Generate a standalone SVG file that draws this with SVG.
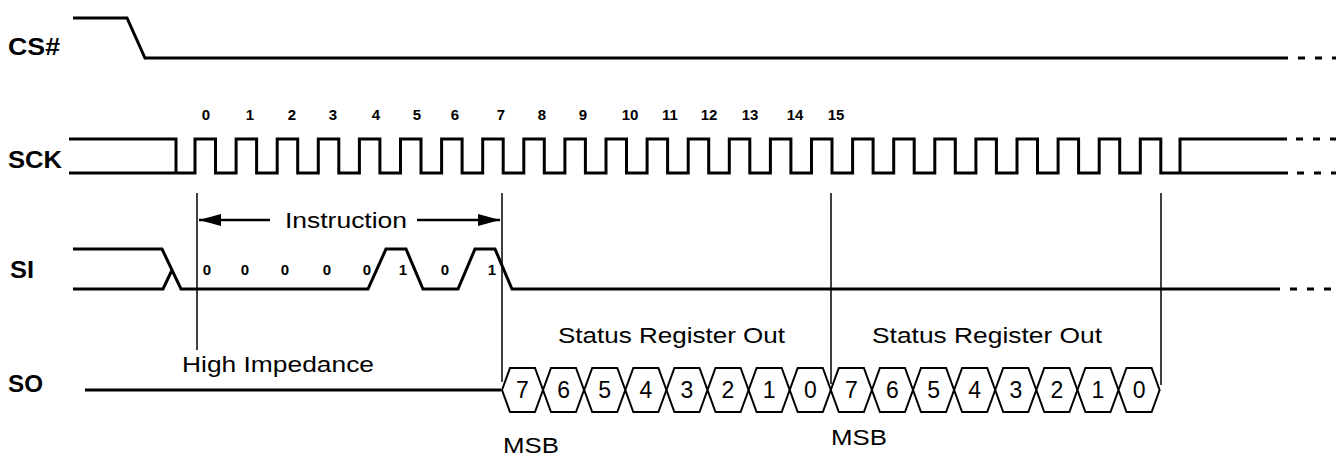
<svg xmlns="http://www.w3.org/2000/svg" width="1341" height="457" viewBox="0 0 1341 457">
<style>
.sig{fill:none;stroke:#000;stroke-width:3;stroke-linejoin:miter}
.thin{fill:none;stroke:#000;stroke-width:1.5}
.dash{fill:none;stroke:#000;stroke-width:3;stroke-dasharray:7 10}
.hex{fill:none;stroke:#000;stroke-width:2;stroke-linejoin:miter}
.lbl{font-family:"Liberation Sans",Arial,sans-serif;font-weight:bold;font-size:23px;fill:#000}
.num{font-family:"Liberation Sans",Arial,sans-serif;font-weight:bold;font-size:15px;fill:#000;text-anchor:middle}
.txt{font-family:"Liberation Sans",Arial,sans-serif;font-size:22px;fill:#000}
.dig{font-family:"Liberation Sans",Arial,sans-serif;font-size:23px;fill:#000;text-anchor:middle}
</style>
<defs>
<marker id="ah" markerUnits="userSpaceOnUse" viewBox="0 0 22 12" refX="22" refY="6" markerWidth="22" markerHeight="12" orient="auto">
<path d="M0,0 L22,6 L0,12 z" fill="#000"/>
</marker>
</defs>

<g id="labels">
<text class="lbl" x="8" y="55" textLength="52" lengthAdjust="spacingAndGlyphs">CS#</text>
<text class="lbl" x="8" y="168" textLength="54" lengthAdjust="spacingAndGlyphs">SCK</text>
<text class="lbl" x="10" y="278" textLength="24" lengthAdjust="spacingAndGlyphs">SI</text>
<text class="lbl" x="8" y="392" textLength="35" lengthAdjust="spacingAndGlyphs">SO</text>
</g>

<g id="cs">
<path class="sig" d="M73,18 H127 L145,58 H1288"/>
<path class="dash" d="M1298,58 H1336"/>
</g>

<g id="sck-numbers">
<text class="num" x="206" y="120">0</text>
<text class="num" x="250" y="120">1</text>
<text class="num" x="292" y="120">2</text>
<text class="num" x="333" y="120">3</text>
<text class="num" x="376" y="120">4</text>
<text class="num" x="417" y="120">5</text>
<text class="num" x="455" y="120">6</text>
<text class="num" x="501" y="120">7</text>
<text class="num" x="542" y="120">8</text>
<text class="num" x="583" y="120">9</text>
<text class="num" x="630" y="120">10</text>
<text class="num" x="670" y="120">11</text>
<text class="num" x="709" y="120">12</text>
<text class="num" x="750" y="120">13</text>
<text class="num" x="795" y="120">14</text>
<text class="num" x="836" y="120">15</text>
</g>

<g id="sck">
<path class="sig" d="M69,139 H176 V173 M69,173 H195 V139 H215.5 V173 H236.1 V139 H256.6 V173 H277.2 V139 H297.7 V173 H318.3 V139 H338.8 V173 H359.4 V139 H379.9 V173 H400.5 V139 H421 V173 H441.6 V139 H462.1 V173 H482.7 V139 H503.2 V173 H523.8 V139 H544.3 V173 H564.9 V139 H585.4 V173 H606 V139 H626.5 V173 H647.1 V139 H667.6 V173 H688.2 V139 H708.7 V173 H729.3 V139 H749.8 V173 H770.4 V139 H790.9 V173 H811.5 V139 H832 V173 H852.6 V139 H873.1 V173 H893.7 V139 H914.2 V173 H934.8 V139 H955.3 V173 H975.9 V139 H996.4 V173 H1017 V139 H1037.5 V173 H1058.1 V139 H1078.6 V173 H1099.2 V139 H1119.7 V173 H1140.3 V139 H1160.8 V173 H1288 M1180,173 V139 H1287"/>
<path class="dash" d="M1296,139 H1336 M1297,173 H1336"/>
</g>

<g id="si">
<path class="sig" d="M73,249 H162 L181,289 H368 L386,249 H406 L423,289 H458 L475,249 H495 L512,289 H1280 M73,289 H163 L172,270"/>
<path class="dash" d="M1290,289 H1336"/>
<text class="num" x="207" y="275">0</text>
<text class="num" x="245" y="275">0</text>
<text class="num" x="285" y="275">0</text>
<text class="num" x="327" y="275">0</text>
<text class="num" x="367" y="275">0</text>
<text class="num" x="403" y="275">1</text>
<text class="num" x="445" y="275">0</text>
<text class="num" x="492" y="275">1</text>
</g>

<g id="instruction">
<line class="thin" x1="270" y1="220" x2="199" y2="220" style="stroke-width:2.5" marker-end="url(#ah)"/>
<line class="thin" x1="417" y1="220" x2="500" y2="220" style="stroke-width:2.5" marker-end="url(#ah)"/>
<text class="txt" x="285" y="228" textLength="122" lengthAdjust="spacingAndGlyphs">Instruction</text>
</g>

<g id="connectors">
<line class="thin" x1="197" y1="193" x2="197" y2="350"/>
<line class="thin" x1="502" y1="193" x2="502" y2="382"/>
<line class="thin" x1="831" y1="193" x2="831" y2="384"/>
<line class="thin" x1="1161" y1="193" x2="1161" y2="385"/>
</g>

<g id="so">
<path class="sig" d="M85,390 H501"/>
<text class="txt" x="182" y="372" textLength="192" lengthAdjust="spacingAndGlyphs">High Impedance</text>
<text class="txt" x="558" y="343" textLength="227" lengthAdjust="spacingAndGlyphs">Status Register Out</text>
<text class="txt" x="872" y="343" textLength="230" lengthAdjust="spacingAndGlyphs">Status Register Out</text>
<text class="txt" x="503" y="453" textLength="56" lengthAdjust="spacingAndGlyphs">MSB</text>
<text class="txt" x="831" y="445" textLength="56" lengthAdjust="spacingAndGlyphs">MSB</text>
</g>

<g id="so-bits">
<path class="hex" d="M502,390 L510,368 H535 L551,412 H576 L584,390 L576,368 H551 L535,412 H510 Z"/>
<path class="hex" d="M584.2,390 L592.2,368 H617.3 L633.3,412 H658.4 L666.4,390 L658.4,368 H633.3 L617.3,412 H592.2 Z"/>
<path class="hex" d="M666.4,390 L674.4,368 H699.5 L715.5,412 H740.6 L748.6,390 L740.6,368 H715.5 L699.5,412 H674.4 Z"/>
<path class="hex" d="M748.6,390 L756.6,368 H781.7 L797.7,412 H822.8 L830.8,390 L822.8,368 H797.7 L781.7,412 H756.6 Z"/>
<path class="hex" d="M830.8,390 L838.8,368 H863.9 L879.9,412 H905 L913,390 L905,368 H879.9 L863.9,412 H838.8 Z"/>
<path class="hex" d="M913,390 L921,368 H946.1 L962.1,412 H987.2 L995.2,390 L987.2,368 H962.1 L946.1,412 H921 Z"/>
<path class="hex" d="M995.2,390 L1003.2,368 H1028.3 L1044.3,412 H1069.4 L1077.4,390 L1069.4,368 H1044.3 L1028.3,412 H1003.2 Z"/>
<path class="hex" d="M1077.4,390 L1085.4,368 H1110.5 L1126.5,412 H1151.6 L1159.6,390 L1151.6,368 H1126.5 L1110.5,412 H1085.4 Z"/>
<text class="dig" x="522.5" y="398">7</text>
<text class="dig" x="563.6" y="398">6</text>
<text class="dig" x="604.7" y="398">5</text>
<text class="dig" x="645.8" y="398">4</text>
<text class="dig" x="687" y="398">3</text>
<text class="dig" x="728" y="398">2</text>
<text class="dig" x="769.2" y="398">1</text>
<text class="dig" x="810.3" y="398">0</text>
<text class="dig" x="851.4" y="398">7</text>
<text class="dig" x="892.5" y="398">6</text>
<text class="dig" x="933.6" y="398">5</text>
<text class="dig" x="974.7" y="398">4</text>
<text class="dig" x="1015.8" y="398">3</text>
<text class="dig" x="1056.9" y="398">2</text>
<text class="dig" x="1098" y="398">1</text>
<text class="dig" x="1139.1" y="398">0</text>
</g>
</svg>
